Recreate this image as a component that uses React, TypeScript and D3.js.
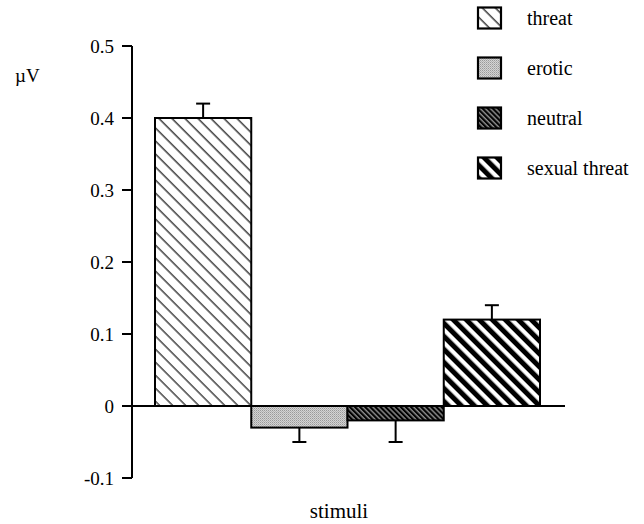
import React, { useEffect, useRef } from 'react';
import * as d3 from 'd3';

const categories = ['threat', 'erotic', 'neutral', 'sexual threat'];
const means = [0.4, -0.03, -0.02, 0.12];
const errors = [0.02, 0.02, 0.03, 0.02];
const yTicks = [-0.1, 0, 0.1, 0.2, 0.3, 0.4, 0.5];
const yTickLabels = ['-0.1', '0', '0.1', '0.2', '0.3', '0.4', '0.5'];
const fills = ['url(#pThreat)', 'url(#pErotic)', 'url(#pNeutral)', 'url(#pSexual)'];

const W = 644;
const H = 524;
const margin = { top: 46, bottom: 46, left: 132 };
const FONT = "'Liberation Serif', 'DejaVu Serif', serif";

export default function App() {
  const ref = useRef<SVGSVGElement>(null);

  useEffect(() => {
    const svg = d3.select(ref.current);
    svg.selectAll('*').remove();

    const defs = svg.append('defs');

    // thin diagonal hatch
    const p1 = defs.append('pattern').attr('id', 'pThreat').attr('patternUnits', 'userSpaceOnUse')
      .attr('width', 9.2).attr('height', 9.2).attr('patternTransform', 'rotate(-45)');
    p1.append('rect').attr('width', 9.2).attr('height', 9.2).attr('fill', '#fff');
    p1.append('line').attr('x1', 1).attr('x2', 1).attr('y1', 0).attr('y2', 9.2)
      .attr('stroke', '#000').attr('stroke-width', 1.1);

    // grey stipple
    const p2 = defs.append('pattern').attr('id', 'pErotic').attr('patternUnits', 'userSpaceOnUse')
      .attr('width', 2).attr('height', 2);
    p2.append('rect').attr('width', 2).attr('height', 2).attr('fill', '#d4d4d4');
    p2.append('rect').attr('width', 1).attr('height', 1).attr('fill', '#9a9a9a');
    p2.append('rect').attr('x', 1).attr('y', 1).attr('width', 1).attr('height', 1).attr('fill', '#b4b4b4');

    // dense dark hatch
    const p3 = defs.append('pattern').attr('id', 'pNeutral').attr('patternUnits', 'userSpaceOnUse')
      .attr('width', 3.6).attr('height', 3.6).attr('patternTransform', 'rotate(-45)');
    p3.append('rect').attr('width', 3.6).attr('height', 3.6).attr('fill', '#000');
    p3.append('line').attr('x1', 1).attr('x2', 1).attr('y1', 0).attr('y2', 3.6)
      .attr('stroke', '#fff').attr('stroke-width', 0.8);

    // bold stripes
    const p4 = defs.append('pattern').attr('id', 'pSexual').attr('patternUnits', 'userSpaceOnUse')
      .attr('width', 9.2).attr('height', 9.2).attr('patternTransform', 'rotate(-45)');
    p4.append('rect').attr('width', 9.2).attr('height', 9.2).attr('fill', '#fff');
    p4.append('rect').attr('x', 0).attr('width', 5).attr('height', 9.2).attr('fill', '#000');

    const y = d3.scaleLinear().domain([-0.1, 0.5]).range([H - margin.bottom, margin.top]);
    const x = d3.scaleBand<string>().domain(categories).range([155, 540]).padding(0);

    const g = svg.append('g').style('font-family', FONT);

    // y axis
    g.append('line').attr('x1', margin.left).attr('x2', margin.left)
      .attr('y1', y(0.5)).attr('y2', y(-0.1)).attr('stroke', '#000').attr('stroke-width', 2);
    g.selectAll('.tick').data(yTicks).join('line').attr('class', 'tick')
      .attr('x1', margin.left - 10).attr('x2', margin.left)
      .attr('y1', d => y(d)).attr('y2', d => y(d)).attr('stroke', '#000').attr('stroke-width', 2);
    g.selectAll('.tlabel').data(yTicks).join('text').attr('class', 'tlabel')
      .attr('x', margin.left - 18).attr('y', d => y(d)).attr('dy', '0.35em')
      .attr('text-anchor', 'end').style('font-size', '19px')
      .text((_, i) => yTickLabels[i]);

    // bars
    g.selectAll('.bar').data(means).join('rect').attr('class', 'bar')
      .attr('x', (_, i) => x(categories[i])!)
      .attr('width', x.bandwidth())
      .attr('y', d => y(Math.max(0, d)))
      .attr('height', d => Math.abs(y(d) - y(0)))
      .attr('fill', (_, i) => fills[i])
      .attr('stroke', '#000').attr('stroke-width', 2);

    // baseline
    g.append('line').attr('x1', margin.left - 10).attr('x2', 565)
      .attr('y1', y(0)).attr('y2', y(0)).attr('stroke', '#000').attr('stroke-width', 2);

    // error bars (outward only)
    means.forEach((m, i) => {
      const cx = x(categories[i])! + x.bandwidth() / 2;
      const end = m >= 0 ? m + errors[i] : m - errors[i];
      g.append('line').attr('x1', cx).attr('x2', cx).attr('y1', y(m)).attr('y2', y(end))
        .attr('stroke', '#000').attr('stroke-width', 2);
      g.append('line').attr('x1', cx - 7).attr('x2', cx + 7).attr('y1', y(end)).attr('y2', y(end))
        .attr('stroke', '#000').attr('stroke-width', 2);
    });

    // axis titles
    g.append('text').attr('x', 15).attr('y', 82).style('font-size', '19px').text('\u00b5V');
    g.append('text').attr('x', 339).attr('y', 518).attr('text-anchor', 'middle')
      .style('font-size', '21px').text('stimuli');

    // legend
    const rowY = d3.scalePoint<string>().domain(categories).range([18, 168]);
    const leg = g.selectAll('.leg').data(categories).join('g').attr('class', 'leg')
      .attr('transform', d => `translate(478,${rowY(d)})`);
    leg.append('rect').attr('x', 0).attr('y', -10.5).attr('width', 23).attr('height', 21)
      .attr('fill', (_, i) => fills[i]).attr('stroke', '#000').attr('stroke-width', 2.2);
    leg.append('text').attr('x', 49).attr('y', 0).attr('dy', '0.35em')
      .style('font-size', '20px').text(d => d);
  }, []);

  return (
    <svg ref={ref} width={W} height={H} style={{ position: 'absolute', left: 0, top: 0, background: '#fff' }} />
  );
}
